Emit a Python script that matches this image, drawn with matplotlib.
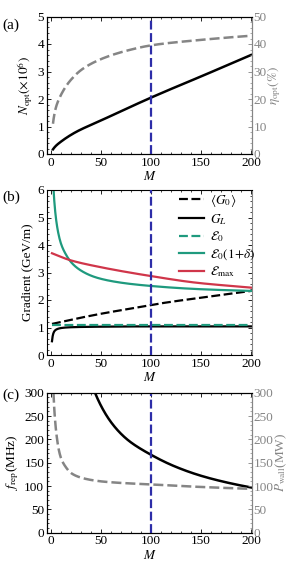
import numpy as np
import matplotlib
matplotlib.use("Agg")
import matplotlib.pyplot as plt
from matplotlib.ticker import MultipleLocator

plt.rcParams['font.family'] = ['Liberation Serif', 'DejaVu Serif']
plt.rcParams['mathtext.fontset'] = 'stix'
plt.rcParams['font.size'] = 9.5

# ---- data (a)
M_a = [2, 5, 10, 25, 50, 75, 100, 125, 150, 175, 200]
N_opt = [0.17, 0.3, 0.45, 0.8, 1.22, 1.64, 2.05, 2.44, 2.82, 3.21, 3.6]
M_eta = [2, 5, 10, 20, 30, 50, 75, 100, 150, 200]
eta_opt = [11, 17, 21.5, 27, 30.5, 34.5, 37.5, 39.5, 41.5, 43]

# ---- data (b)
M_G0 = [1, 25, 50, 75, 100, 125, 150, 175, 200]
G0 = [1.13, 1.32, 1.5, 1.66, 1.82, 1.96, 2.08, 2.21, 2.33]
M_GL = [1, 2, 3, 5, 10, 20, 50, 100, 200]
GL = [0.5, 0.74, 0.84, 0.92, 0.98, 1.01, 1.03, 1.04, 1.04]
M_E0 = [1, 200]
E0 = [1.1, 1.1]
M_Ed = [2.6, 4, 6, 10, 15, 20, 30, 46, 70, 100, 145, 200]
Ed = [6.0, 5.3, 4.7, 4.05, 3.65, 3.38, 3.07, 2.81, 2.63, 2.51, 2.4, 2.33]
M_Em = [1, 19, 46, 100, 145, 200]
Emax = [3.7, 3.45, 3.22, 2.87, 2.63, 2.45]

# ---- data (c)
M_f = [44, 50, 60, 75, 100, 125, 150, 175, 200]
f_rep = [300, 272, 237, 202, 167, 141, 122, 108, 97]
M_P = [2.5, 5, 10, 15, 20, 30, 50, 75, 100, 150, 200]
P_wall = [300, 220, 160, 140, 128, 118, 110, 106, 103.5, 98, 94]

M_mark = 100

grey = '#858585'
blue = '#2d2da8'
green = '#1f9a7e'
red = '#d0364a'


def pchip(x, y, xs):
    h = np.diff(x); d = np.diff(y) / h
    m = np.zeros_like(y)
    m[0] = d[0]; m[-1] = d[-1]
    for i in range(1, len(y) - 1):
        if d[i-1] * d[i] <= 0:
            m[i] = 0
        else:
            w1 = 2*h[i] + h[i-1]; w2 = h[i] + 2*h[i-1]
            m[i] = (w1 + w2) / (w1/d[i-1] + w2/d[i])
    idx = np.clip(np.searchsorted(x, xs) - 1, 0, len(x) - 2)
    t = (xs - x[idx]) / h[idx]
    h00 = 2*t**3 - 3*t**2 + 1; h10 = t**3 - 2*t**2 + t
    h01 = -2*t**3 + 3*t**2; h11 = t**3 - t**2
    return h00*y[idx] + h10*h[idx]*m[idx] + h01*y[idx+1] + h11*h[idx]*m[idx+1]


def smooth(x, y, logx=False, logy=False, n=600):
    x = np.asarray(x, float); y = np.asarray(y, float)
    xs = np.linspace(x[0], x[-1], n)
    tx = np.log if logx else (lambda v: v)
    ty = np.log if logy else (lambda v: v)
    ys = pchip(tx(x), ty(y), tx(xs))
    if logy:
        ys = np.exp(ys)
    return xs, ys


fig = plt.figure(figsize=(2.9, 5.62), dpi=100)
L, W = 0.162, 0.707
axa = fig.add_axes([L, 1 - 154/562, W, 137.5/562])
axb = fig.add_axes([L, 1 - 355/562, W, 165/562])
axc = fig.add_axes([L, 1 - 532.7/562, W, 140/562])


def style(ax):
    ax.set_xlim(-4, 201)
    ax.xaxis.set_major_locator(MultipleLocator(50))
    ax.xaxis.set_minor_locator(MultipleLocator(10))
    ax.tick_params(which='both', direction='in', top=True, right=False, labelsize=9.5, pad=2)
    ax.tick_params(which='major', length=3, width=0.6)
    ax.tick_params(which='minor', length=1.5, width=0.5)
    ax.set_xlabel(r'$M$', labelpad=1)
    for s in ax.spines.values():
        s.set_linewidth(0.8)
    ax.spines['right'].set_color(grey)


def right_axis(ax, lo, hi, major, minor, label):
    ax.set_ylim(lo, hi)
    ax.yaxis.set_major_locator(MultipleLocator(major))
    ax.yaxis.set_minor_locator(MultipleLocator(minor))
    ax.tick_params(which='both', direction='in', colors=grey, labelcolor=grey, labelsize=9.5, pad=1)
    ax.tick_params(which='major', length=3, width=0.6)
    ax.tick_params(which='minor', length=1.5, width=0.5)
    ax.spines['right'].set_color(grey)
    ax.set_ylabel(label, color=grey, labelpad=0)


def vline(ax):
    ax.axvline(M_mark, color=blue, lw=1.6, ls=(0, (4, 1.6)), zorder=5)


dash = (0, (4, 1.6))

# (a)
style(axa)
x, y = smooth(M_a, N_opt, logx=True, logy=True)
axa.plot(x, y, color='black', lw=1.8)
axa.set_ylim(0, 5)
axa.yaxis.set_major_locator(MultipleLocator(1))
axa.yaxis.set_minor_locator(MultipleLocator(0.2))
axa.set_ylabel(r'$N_{\rm opt}(\times 10^6)$', labelpad=2)
axa2 = axa.twinx()
x, y = smooth(M_eta, eta_opt, logx=True)
axa2.plot(x, y, color=grey, lw=1.8, ls=dash)
right_axis(axa2, 0, 50, 10, 2, r'$\eta_{\rm opt}(\%)$')
vline(axa)
fig.text(0.008, 1 - 25/562, '(a)', fontsize=11, va='center')

# (b)
style(axb)
axb.tick_params(which='both', right=True)
x, y = smooth(M_G0, G0)
axb.plot(x, y, color='black', lw=1.6, ls=dash, label=r'$\langle G_0\rangle$')
x, y = smooth(M_GL, GL, logx=True)
axb.plot(x, y, color='black', lw=1.6, label=r'$G_L$')
axb.plot(M_E0, E0, color=green, lw=1.6, ls=dash, label=r'$\mathcal{E}_0$')
x, y = smooth(M_Ed, Ed, logx=True, logy=True)
axb.plot(x, y, color=green, lw=1.6, label=r'$\mathcal{E}_0(1\!+\!\delta)$')
x, y = smooth(M_Em, Emax)
axb.plot(x, y, color=red, lw=1.6, label=r'$\mathcal{E}_{\max}$')
vline(axb)
axb.set_ylim(0, 6)
axb.yaxis.set_major_locator(MultipleLocator(1))
axb.yaxis.set_minor_locator(MultipleLocator(0.2))
axb.set_ylabel('Gradient (GeV/m)', labelpad=3)
axb.legend(loc='upper left', bbox_to_anchor=(0.63, 1.005), frameon=False, fontsize=9.5,
           handlelength=1.9, labelspacing=0.22, borderaxespad=0.0, borderpad=0.2,
           handletextpad=0.45)
fig.text(0.008, 1 - 197/562, '(b)', fontsize=11, va='center')

# (c)
style(axc)
x, y = smooth(M_f, f_rep, logx=True, logy=True)
axc.plot(x, y, color='black', lw=1.8)
axc.set_ylim(0, 300)
axc.yaxis.set_major_locator(MultipleLocator(50))
axc.yaxis.set_minor_locator(MultipleLocator(10))
axc.set_ylabel(r'$f_{\rm rep}$(MHz)', labelpad=2)
axc2 = axc.twinx()
x, y = smooth(M_P, P_wall, logx=True, logy=True)
axc2.plot(x, y, color=grey, lw=1.8, ls=dash)
right_axis(axc2, 0, 300, 50, 10, r'$P_{\rm wall}$(MW)')
vline(axc)
fig.text(0.008, 1 - 395/562, '(c)', fontsize=11, va='center')

fig.savefig('out.png', dpi=100)
